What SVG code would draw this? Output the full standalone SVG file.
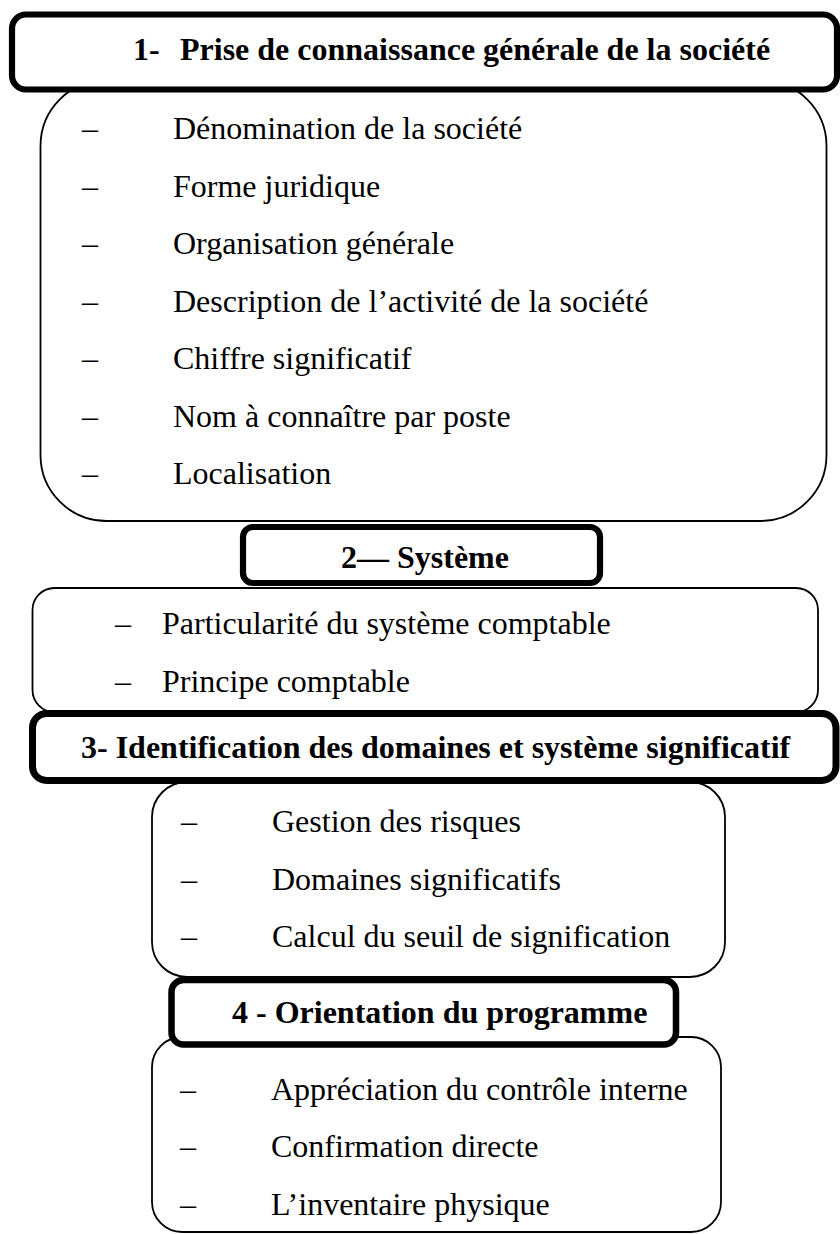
<svg xmlns="http://www.w3.org/2000/svg" width="840" height="1234" viewBox="0 0 840 1234">
  <style>
    .body { fill: #ffffff; stroke: #000000; stroke-width: 1.8; }
    .head { fill: #ffffff; stroke: #000000; stroke-width: 6.2; }
    .ht { font-family: "Liberation Serif", "Times New Roman", serif; font-size: 32px; font-weight: bold; fill: #000000; }
    .it { font-family: "Liberation Serif", "Times New Roman", serif; font-size: 32px; fill: #000000; }
  </style>
  <rect width="840" height="1234" fill="#ffffff"/>

  <!-- item panels (drawn first, headers sit on top of them) -->
  <g id="panel-1">
    <rect class="body" x="40.5" y="80" width="786" height="441" rx="66" ry="66"/>
    <text class="it" x="82" y="139">–</text><text class="it" x="173" y="139">Dénomination de la société</text>
    <text class="it" x="82" y="197">–</text><text class="it" x="173" y="197">Forme juridique</text>
    <text class="it" x="82" y="254">–</text><text class="it" x="173" y="254">Organisation générale</text>
    <text class="it" x="82" y="312">–</text><text class="it" x="173" y="312">Description de l’activité de la société</text>
    <text class="it" x="82" y="369">–</text><text class="it" x="173" y="369">Chiffre significatif</text>
    <text class="it" x="82" y="427">–</text><text class="it" x="173" y="427">Nom à connaître par poste</text>
    <text class="it" x="82" y="484">–</text><text class="it" x="173" y="484">Localisation</text>
  </g>

  <g id="panel-2">
    <rect class="body" x="32.5" y="588" width="785.5" height="124" rx="22" ry="22"/>
    <text class="it" x="115" y="634">–</text><text class="it" x="162" y="634">Particularité du système comptable</text>
    <text class="it" x="115" y="692">–</text><text class="it" x="162" y="692">Principe comptable</text>
  </g>

  <g id="panel-3">
    <rect class="body" x="152" y="782" width="573" height="195" rx="35" ry="35"/>
    <text class="it" x="181" y="832">–</text><text class="it" x="272" y="832">Gestion des risques</text>
    <text class="it" x="181" y="889.5">–</text><text class="it" x="272" y="889.5">Domaines significatifs</text>
    <text class="it" x="181" y="947">–</text><text class="it" x="272" y="947">Calcul du seuil de signification</text>
  </g>

  <g id="panel-4">
    <rect class="body" x="152" y="1037" width="569" height="195" rx="30" ry="30"/>
    <text class="it" x="180" y="1099.5">–</text><text class="it" x="271" y="1099.5">Appréciation du contrôle interne</text>
    <text class="it" x="180" y="1157">–</text><text class="it" x="271" y="1157">Confirmation directe</text>
    <text class="it" x="180" y="1214.5">–</text><text class="it" x="271" y="1214.5">L’inventaire physique</text>
  </g>

  <!-- section headers -->
  <g id="header-1">
    <rect class="head" x="12" y="14.5" width="825" height="75" rx="14" ry="14"/>
    <text class="ht" y="60"><tspan x="133">1-</tspan><tspan x="180">Prise de connaissance générale de la société</tspan></text>
  </g>

  <g id="header-2">
    <rect class="head" x="243" y="527" width="357" height="56" rx="10" ry="10"/>
    <text class="ht" x="341" y="568">2— Système</text>
  </g>

  <g id="header-3">
    <rect class="head" x="32.5" y="713.5" width="803.5" height="67" rx="14" ry="14" style="stroke-width:7"/>
    <text class="ht" x="81" y="758">3- Identification des domaines et système significatif</text>
  </g>

  <g id="header-4">
    <rect class="head" x="171.5" y="980" width="504.5" height="64.5" rx="12" ry="12" style="stroke-width:6.5"/>
    <text class="ht" x="232" y="1023">4 - Orientation du programme</text>
  </g>
</svg>
